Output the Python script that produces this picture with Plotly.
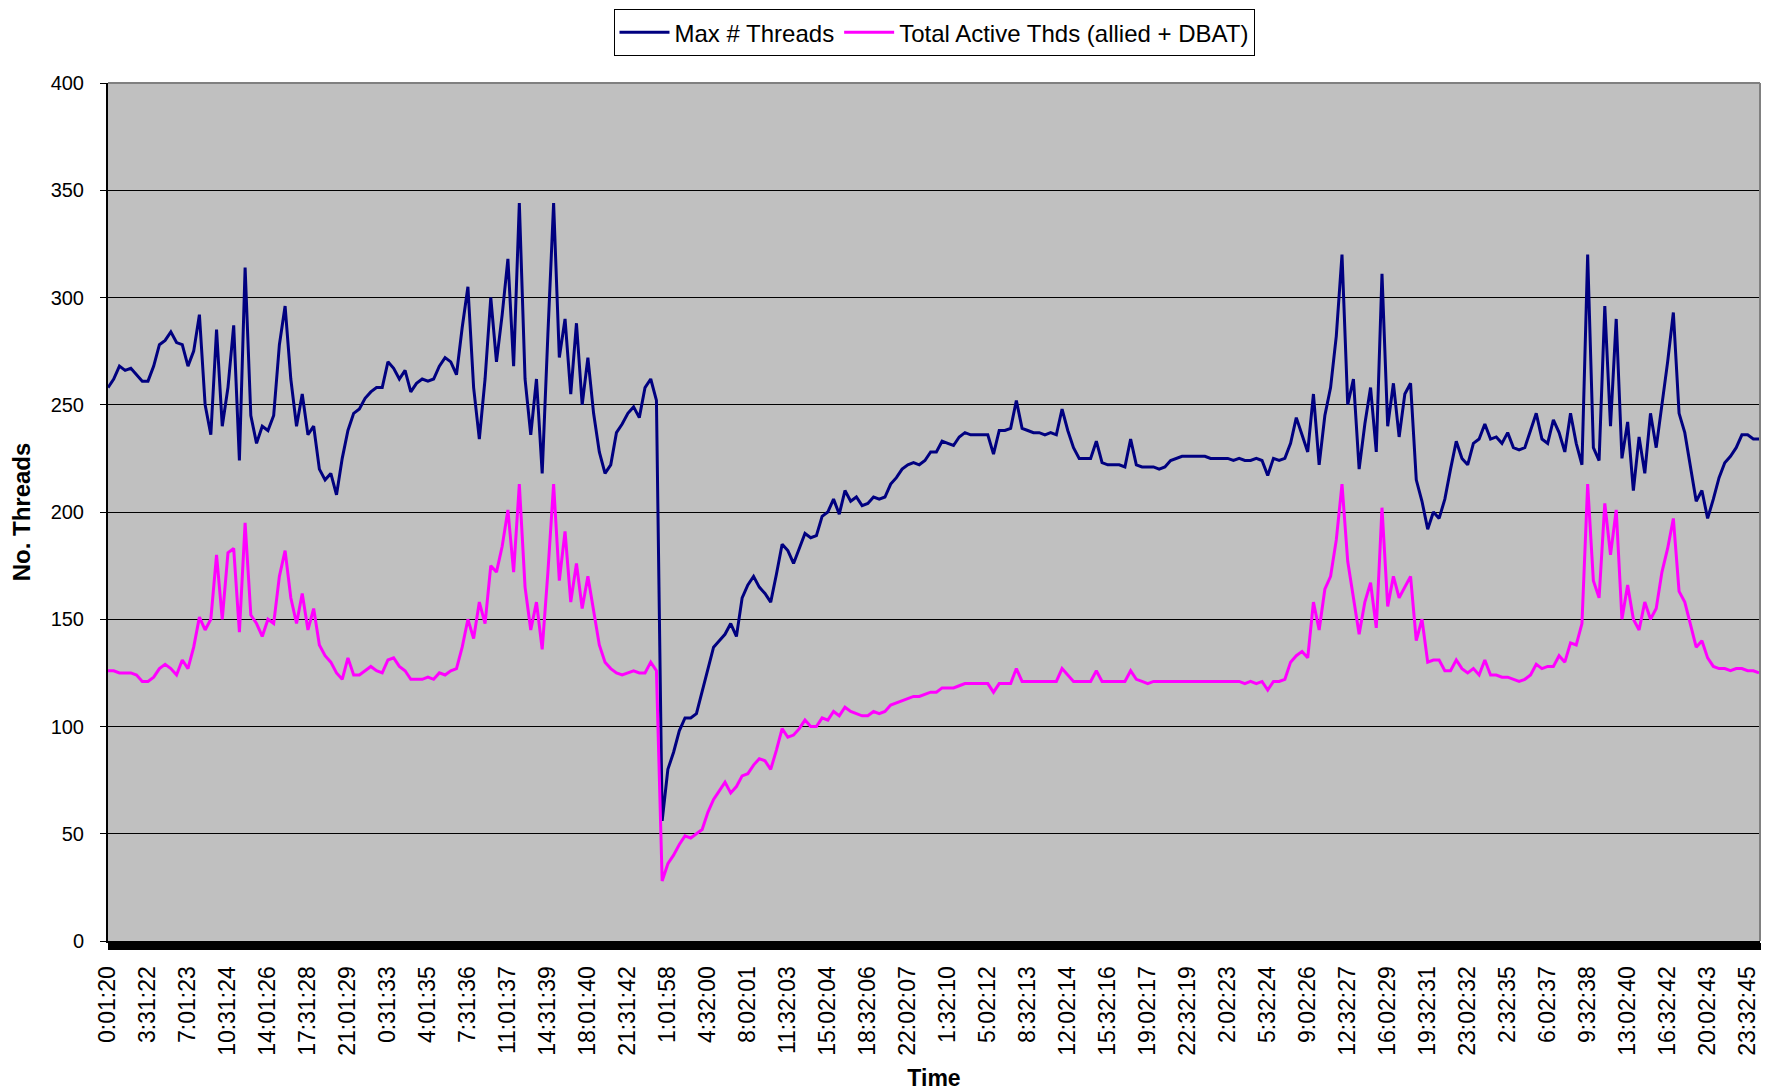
import plotly.graph_objects as go

# 5-minute categories; values read every 6 categories (30 min)
SAMPLE_STEP = 6
LABEL_STEP = 42

time_labels = [
    "0:01:20", "3:31:22", "7:01:23", "10:31:24", "14:01:26", "17:31:28", "21:01:29",
    "0:31:33", "4:01:35", "7:31:36", "11:01:37", "14:31:39", "18:01:40", "21:31:42",
    "1:01:58", "4:32:00", "8:02:01", "11:32:03", "15:02:04", "18:32:06", "22:02:07",
    "1:32:10", "5:02:12", "8:32:13", "12:02:14", "15:32:16", "19:02:17", "22:32:19",
    "2:02:23", "5:32:24", "9:02:26", "12:32:27", "16:02:29", "19:32:31", "23:02:32",
    "2:32:35", "6:02:37", "9:32:38", "13:02:40", "16:32:42", "20:02:43", "23:32:45",
]

max_threads = [
    258, 262, 268, 266, 267, 264, 261,
    261, 268, 278, 280, 284, 279, 278,
    268, 275, 292, 250, 236, 285, 240,
    258, 287, 224, 314, 245, 232, 240,
    238, 245, 278, 296, 262, 240, 255,
    236, 240, 220, 215, 218, 208, 225,
    238, 246, 248, 253, 256, 258, 258,
    270, 267, 262, 266, 256, 260, 262,
    261, 262, 268, 272, 270, 264, 286,
    305, 258, 234, 262, 300, 270, 292,
    318, 268, 344, 262, 236, 262, 218,
    283, 344, 272, 290, 255, 288, 250,
    272, 246, 228, 218, 222, 237, 241,
    246, 249, 244, 258, 262, 252, 56,
    80, 88, 98, 104, 104, 106, 116,
    126, 137, 140, 143, 148, 142, 160,
    166, 170, 165, 162, 158, 171, 185,
    182, 176, 183, 190, 188, 189, 198,
    200, 206, 199, 210, 205, 207, 203,
    204, 207, 206, 207, 213, 216, 220,
    222, 223, 222, 224, 228, 228, 233,
    232, 231, 235, 237, 236, 236, 236,
    236, 227, 238, 238, 239, 252, 239,
    238, 237, 237, 236, 237, 236, 248,
    238, 230, 225, 225, 225, 233, 223,
    222, 222, 222, 221, 234, 222, 221,
    221, 221, 220, 221, 224, 225, 226,
    226, 226, 226, 226, 225, 225, 225,
    225, 224, 225, 224, 224, 225, 224,
    217, 225, 224, 225, 232, 244, 236,
    228, 255, 222, 245, 258, 282, 320,
    250, 262, 220, 241, 258, 228, 311,
    240, 260, 235, 255, 260, 215, 205,
    192, 200, 197, 206, 220, 233, 225,
    222, 232, 234, 241, 234, 235, 232,
    237, 230, 229, 230, 238, 246, 234,
    232, 243, 237, 228, 246, 232, 222,
    320, 230, 224, 296, 240, 290, 225,
    242, 210, 235, 218, 246, 230, 250,
    270, 293, 246, 237, 222, 205, 210,
    197, 206, 216, 223, 226, 230, 236,
    236, 234, 234,
]

total_active = [
    126, 126, 125, 125, 125, 124, 121,
    121, 123, 127, 129, 127, 124, 131,
    127, 137, 151, 145, 150, 180, 150,
    181, 183, 144, 195, 152, 148, 142,
    150, 148, 170, 182, 160, 148, 162,
    145, 155, 138, 133, 130, 125, 122,
    132, 124, 124, 126, 128, 126, 125,
    131, 132, 128, 126, 122, 122, 122,
    123, 122, 125, 124, 126, 127, 137,
    150, 141, 158, 148, 175, 172, 184,
    201, 172, 213, 165, 145, 158, 136,
    172, 213, 168, 191, 158, 176, 155,
    170, 153, 138, 130, 127, 125, 124,
    125, 126, 125, 125, 130, 126, 28,
    36, 40, 45, 49, 48, 50, 52,
    60, 66, 70, 74, 69, 72, 77,
    78, 82, 85, 84, 80, 89, 99,
    95, 96, 99, 103, 100, 100, 104,
    103, 107, 105, 109, 107, 106, 105,
    105, 107, 106, 107, 110, 111, 112,
    113, 114, 114, 115, 116, 116, 118,
    118, 118, 119, 120, 120, 120, 120,
    120, 116, 120, 120, 120, 127, 121,
    121, 121, 121, 121, 121, 121, 127,
    124, 121, 121, 121, 121, 126, 121,
    121, 121, 121, 121, 126, 122, 121,
    120, 121, 121, 121, 121, 121, 121,
    121, 121, 121, 121, 121, 121, 121,
    121, 121, 121, 120, 121, 120, 121,
    117, 121, 121, 122, 130, 133, 135,
    132, 158, 145, 164, 170, 187, 213,
    177, 160, 143, 158, 167, 146, 202,
    156, 170, 160, 165, 170, 140, 150,
    130, 131, 131, 126, 126, 131, 127,
    125, 127, 124, 131, 124, 124, 123,
    123, 122, 121, 122, 124, 129, 127,
    128, 128, 133, 130, 139, 138, 148,
    213, 168, 160, 204, 180, 201, 150,
    166, 150, 145, 158, 150, 155, 172,
    183, 197, 163, 158, 148, 137, 140,
    132, 128, 127, 127, 126, 127, 127,
    126, 126, 125,
]

x_idx = [i * SAMPLE_STEP for i in range(len(max_threads))]
tick_pos = [i * LABEL_STEP for i in range(len(time_labels))]
x_max = 1735

FONT = "Liberation Sans, Arial, sans-serif"

fig = go.Figure()
fig.add_trace(go.Scatter(
    x=x_idx, y=max_threads, mode="lines", name="Max # Threads",
    line=dict(color="#000080", width=3),
))
fig.add_trace(go.Scatter(
    x=x_idx, y=total_active, mode="lines", name="Total Active Thds (allied + DBAT)",
    line=dict(color="#FF00FF", width=3),
))

# page body has an 8px margin; figure sized so the plot area lands where the reference has it
fig.update_layout(
    width=1764, height=1083,
    margin=dict(l=100, r=12, t=75, b=150, autoexpand=False),
    paper_bgcolor="white",
    plot_bgcolor="#C0C0C0",
    font=dict(family=FONT, color="black", size=20),
    showlegend=True,
    legend=dict(
        orientation="h", x=0.5, xanchor="center", y=1.086, yanchor="top",
        bordercolor="black", borderwidth=1, bgcolor="white",
        font=dict(size=24, family=FONT), itemwidth=50,
        tracegroupgap=0,
    ),
    xaxis=dict(
        range=[0, x_max], automargin=False,
        tickmode="array", tickvals=tick_pos, ticktext=time_labels,
        tickangle=-90, tickfont=dict(size=23, family=FONT),
        ticks="outside", ticklen=7, tickcolor="black", tickwidth=1,
        ticklabelstandoff=7,
        showgrid=False, zeroline=False,
        showline=True, linecolor="black", linewidth=2,
        minor=dict(ticks="outside", ticklen=7, tickwidth=1, tickcolor="black",
                   tickmode="linear", tick0=0, dtick=1, showgrid=False),
        title=dict(text="<b>Time</b>", font=dict(size=23, family=FONT), standoff=15),
    ),
    yaxis=dict(
        range=[0, 400], tickmode="linear", tick0=0, dtick=50, automargin=False,
        tickfont=dict(size=20, family=FONT),
        ticks="outside", ticklen=6, tickcolor="black",
        ticklabelstandoff=12,
        showgrid=True, gridcolor="black", gridwidth=1,
        zeroline=False,
        showline=True, linecolor="black", linewidth=2,
        title=dict(text="<b>No. Threads</b>", font=dict(size=24, family=FONT), standoff=16),
    ),
    shapes=[
        dict(type="line", xref="paper", yref="paper", x0=0, x1=1, y0=1, y1=1,
             line=dict(color="#808080", width=2), layer="above"),
        dict(type="line", xref="paper", yref="paper", x0=1, x1=1, y0=0, y1=1,
             line=dict(color="#808080", width=2), layer="above"),
    ],
)

fig.write_html("out.html")
